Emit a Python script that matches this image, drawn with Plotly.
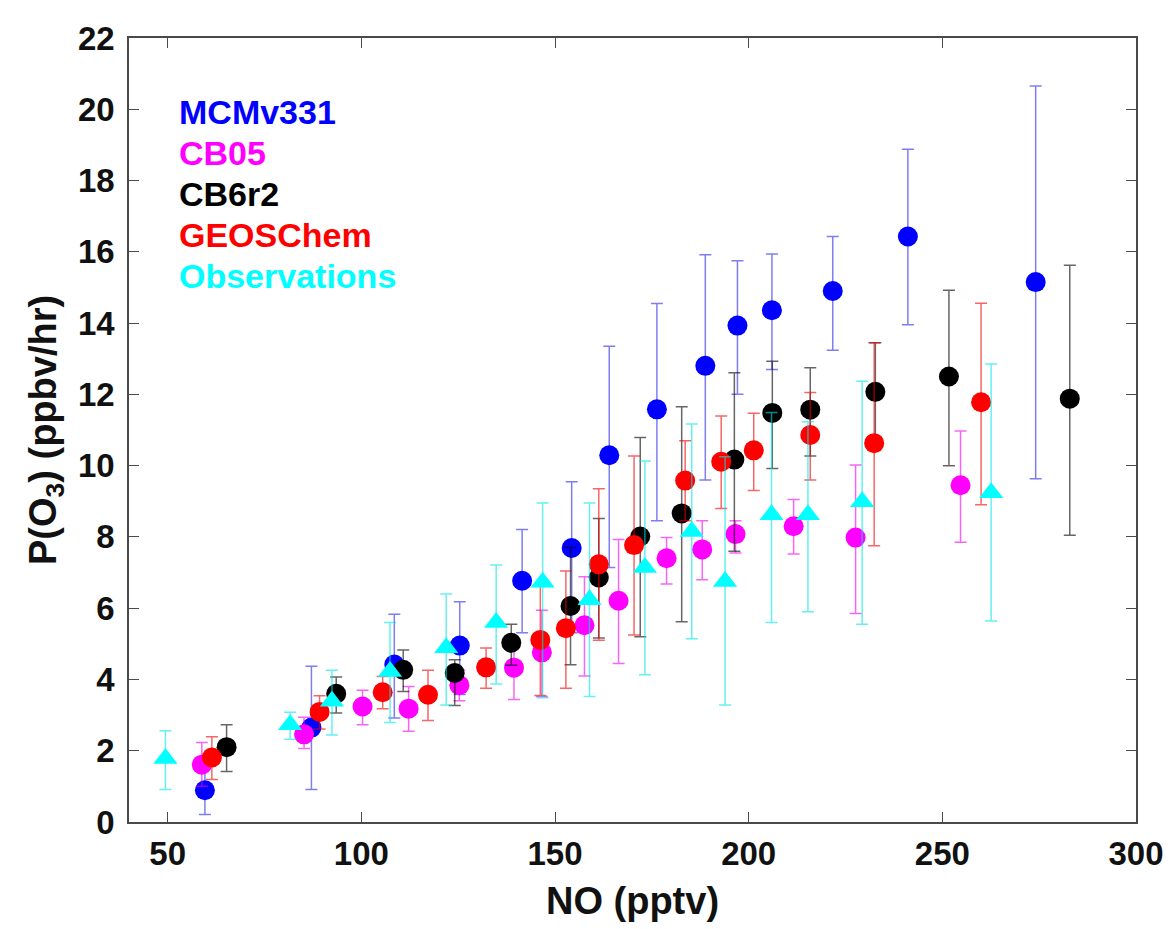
import plotly.graph_objects as go

# ---- data (NO in pptv, P(O3) in ppbv/hr; hi/lo are error-bar ends) ----
mcm_x = [59.6, 87.1, 108.5, 125.4, 141.5, 154.3, 164.0, 176.3, 188.8, 197.1, 206.0, 221.7, 241.1, 274.1]
mcm_y = [0.89, 2.65, 4.42, 4.95, 6.77, 7.69, 10.29, 11.58, 12.80, 13.93, 14.36, 14.90, 16.43, 15.15]
mcm_hi = [1.50, 4.37, 5.83, 6.18, 8.21, 9.55, 13.35, 14.55, 15.92, 15.75, 15.94, 16.43, 18.88, 20.65]
mcm_lo = [0.21, 0.91, 2.92, 3.58, 5.31, 5.31, 7.14, 8.45, 9.60, 12.00, 12.70, 13.24, 13.95, 9.63]

cb05_x = [58.8, 85.2, 100.3, 112.2, 125.3, 139.4, 146.6, 157.6, 166.4, 178.8, 188.0, 196.6, 211.6, 227.6, 254.7]
cb05_y = [1.61, 2.46, 3.24, 3.18, 3.84, 4.33, 4.76, 5.52, 6.21, 7.40, 7.65, 8.08, 8.30, 7.98, 9.45]
cb05_hi = [2.23, 2.94, 3.70, 3.80, 4.26, 4.90, 5.94, 6.88, 7.93, 7.98, 8.45, 8.45, 9.05, 10.02, 10.97]
cb05_lo = [1.00, 2.06, 2.73, 2.55, 3.40, 3.44, 3.52, 4.10, 4.45, 6.68, 6.80, 7.55, 7.52, 5.85, 7.85]

cb6_x = [65.2, 93.5, 110.8, 124.1, 138.7, 154.0, 161.3, 172.0, 182.7, 196.3, 206.1, 215.9, 232.7, 251.7, 282.9]
cb6_y = [2.10, 3.60, 4.27, 4.18, 5.03, 6.06, 6.86, 8.01, 8.66, 10.17, 11.48, 11.57, 12.07, 12.50, 11.88]
cb6_hi = [2.73, 4.07, 4.83, 4.55, 5.55, 7.70, 8.52, 10.79, 11.65, 12.61, 12.93, 12.75, 13.45, 14.92, 15.62]
cb6_lo = [1.42, 3.06, 3.66, 3.27, 4.40, 4.41, 5.16, 5.20, 5.62, 7.60, 9.92, 10.27, 10.67, 10.00, 8.05]

geos_x = [61.4, 89.2, 105.5, 117.2, 132.2, 146.2, 152.8, 161.3, 170.4, 183.6, 192.9, 201.3, 215.9, 232.4, 260.0]
geos_y = [1.81, 3.09, 3.64, 3.57, 4.34, 5.11, 5.44, 7.23, 7.77, 9.58, 10.11, 10.43, 10.86, 10.63, 11.78]
geos_hi = [2.39, 3.54, 4.08, 4.26, 4.88, 6.65, 7.04, 9.35, 10.27, 10.70, 11.39, 11.47, 12.05, 13.45, 14.56]
geos_lo = [1.19, 2.61, 3.18, 2.85, 3.75, 3.55, 3.75, 5.10, 5.25, 8.45, 8.80, 9.30, 9.60, 7.75, 8.90]

obs_x = [49.4, 81.6, 92.4, 107.4, 121.9, 134.8, 146.8, 158.9, 173.2, 185.3, 193.9, 205.9, 215.3, 229.3, 262.6]
obs_y = [1.78, 2.73, 3.39, 4.22, 4.89, 5.60, 6.73, 6.24, 7.14, 8.15, 6.75, 8.62, 8.62, 8.99, 9.24]
obs_hi = [2.56, 3.08, 4.26, 5.60, 6.40, 7.21, 8.95, 8.95, 10.13, 11.17, 10.25, 11.49, 11.23, 12.37, 12.85]
obs_lo = [0.91, 2.32, 2.44, 2.79, 3.28, 3.87, 3.49, 3.52, 4.13, 5.14, 3.28, 5.60, 5.90, 5.55, 5.64]

series_names = ["MCMv331", "CB05", "CB6r2", "GEOSChem", "Observations"]
x_ticks = [50, 100, 150, 200, 250, 300]
y_ticks = [0, 2, 4, 6, 8, 10, 12, 14, 16, 18, 20, 22]

FONT = "Liberation Sans, Arial, Helvetica, sans-serif"

series = [
    (mcm_x, mcm_y, mcm_hi, mcm_lo, "#0000ff", "rgba(40,40,230,0.6)", "circle", 20),
    (cb05_x, cb05_y, cb05_hi, cb05_lo, "#ff00ff", "rgba(240,0,240,0.6)", "circle", 20),
    (cb6_x, cb6_y, cb6_hi, cb6_lo, "#000000", "rgba(0,0,0,0.6)", "circle", 20),
    (geos_x, geos_y, geos_hi, geos_lo, "#ff0000", "rgba(240,0,0,0.6)", "circle", 20),
    (obs_x, obs_y, obs_hi, obs_lo, "#00ffff", "rgba(0,230,230,0.6)", "triangle-up", 21),
]

fig = go.Figure()
for name, (xs, ys, his, los, col, ecol, sym, sz) in zip(series_names, series):
    plus = [h - v for h, v in zip(his, ys)]
    minus = [v - l for v, l in zip(ys, los)]
    fig.add_trace(go.Scatter(
        x=xs, y=ys, mode="markers", name=name, showlegend=False,
        marker=dict(color=col, size=sz, symbol=sym, line=dict(width=0)),
        error_y=dict(type="data", symmetric=False, array=plus, arrayminus=minus,
                     color=ecol, thickness=1.5, width=6),
    ))

# text legend in the upper-left corner
legend_colors = ["#0000ff", "#ff00ff", "#000000", "#ff0000", "#00ffff"]
for i, (name, col) in enumerate(zip(series_names, legend_colors)):
    fig.add_annotation(
        xref="paper", yref="paper", x=0.048, y=0.906 - i * 0.0524,
        xanchor="left", yanchor="middle", showarrow=False,
        text=f"<b>{name}</b>", font=dict(family=FONT, size=34, color=col),
    )

axis_common = dict(
    showline=True, linecolor="#4a4a4a", linewidth=1.5, mirror="ticks",
    ticks="inside", ticklen=10, tickwidth=1.2, tickcolor="#4a4a4a",
    showgrid=False, zeroline=False,
    tickfont=dict(family=FONT, size=33, color="#111111", weight="bold"),
)

# page body has an 8px margin: figure is sized/offset so the frame lands where the reference has it
fig.update_layout(
    width=1168, height=921,
    margin=dict(l=121, r=32, t=20, b=107),
    paper_bgcolor="white", plot_bgcolor="white",
    font=dict(family=FONT),
    xaxis=dict(range=[40, 300], tickvals=x_ticks, ticklabelstandoff=2,
               title=dict(text="<b>NO (pptv)</b>", font=dict(family=FONT, size=38, color="#111111"), standoff=16),
               **axis_common),
    yaxis=dict(range=[0, 22], tickvals=y_ticks, ticklabelstandoff=6,
               title=dict(text="<b>P(O<sub>3</sub>) (ppbv/hr)</b>", font=dict(family=FONT, size=38, color="#111111"), standoff=10),
               **axis_common),
)

fig.write_html("out.html")
